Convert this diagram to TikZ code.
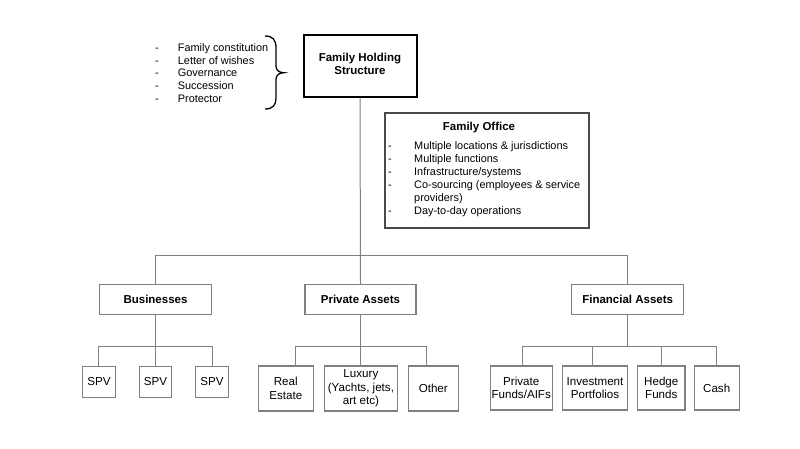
\documentclass[tikz,border=0pt]{standalone}
\usepackage{fontspec}
\setmainfont{Liberation Sans}
\definecolor{lgray}{HTML}{808080}
\definecolor{dgray}{HTML}{4A4A4A}
\begin{document}
\begin{tikzpicture}[x=1pt,y=-1pt,
  conn/.style={draw=lgray,line width=1pt},
  box/.style={draw=lgray,line width=1.1pt,inner sep=0pt,align=center,
    font=\fontsize{11.6}{13.6}\selectfont},
  head/.style={box,minimum width=112pt,minimum height=29.7pt,
    font=\fontsize{11.5}{13.5}\selectfont\bfseries},
  listtxt/.style={inner sep=0pt,anchor=base west,font=\fontsize{10.9}{13.1}\selectfont}
]
\useasboundingbox (0,0) rectangle (800,448);

% top
\node[draw=black,line width=2pt,minimum width=113pt,minimum height=62pt,inner sep=0pt,
  font=\fontsize{11.5}{13.3}\selectfont\bfseries] (top) at (360,65.6)
  {\raisebox{-2.2pt}{\begin{tabular}{@{}c@{}}Family Holding\\Structure\end{tabular}}};

% left list + brace
\node[listtxt,font=\fontsize{10.9}{12.7}\selectfont] (lst) at (155,51.3)
  {\begin{tabular}[t]{@{}p{22.7pt}@{}l@{}}
   -&Family constitution\\
   -&Letter of wishes\\
   -&Governance\\
   -&Succession\\
   -&Protector
   \end{tabular}};
\draw[line width=1.3pt] (265,36) .. controls (273,36) and (276,40) .. (276,48)
  -- (276,66) .. controls (276,70) and (279,72.7) .. (284,72.7)
  .. controls (279,72.7) and (276,75.4) .. (276,79.4)
  -- (276,98) .. controls (276,105) and (273,109) .. (265,109);

% family office
\node[draw=dgray,line width=1.2pt,minimum width=204pt,minimum height=115pt,inner sep=0pt] (fo) at (487,170.5) {};
\node[inner sep=0pt,anchor=base,font=\fontsize{11.5}{13.5}\selectfont\bfseries] (fot) at (479,130) {Family Office};
\node[listtxt] (fol) at (388,149.3)
  {\begin{tabular}[t]{@{}p{26pt}@{}l@{}}
   -&Multiple locations \& jurisdictions\\
   -&Multiple functions\\
   -&Infrastructure/systems\\
   -&Co-sourcing (employees \& service\\
    &providers)\\
   -&Day-to-day operations
   \end{tabular}};

% level 2
\node[head] (bus) at (155.5,299.2) {Businesses};
\node[head,minimum width=111pt] (pa) at (360.5,299.2) {Private Assets};
\node[head] (fin) at (627.7,299.2) {Financial Assets};

% level 3 - SPV
\node[box,minimum width=32.5pt,minimum height=31.7pt] (s1) at (98.9,381.9) {SPV};
\node[box,minimum width=32.5pt,minimum height=31.7pt] (s2) at (155.5,381.9) {SPV};
\node[box,minimum width=32.5pt,minimum height=31.7pt] (s3) at (212,381.9) {SPV};

% private assets children
\node[box,minimum width=55pt,minimum height=45pt] (re) at (285.8,388.5) {Real\\Estate};
\node[box,minimum width=73.7pt,minimum height=45pt] (lux) at (360.9,388.5) {Luxury\\(Yachts, jets,\\art etc)};
\node[box,minimum width=50pt,minimum height=45pt] (oth) at (433.3,388.5) {Other};

% financial children
\node[box,minimum width=62.3pt,minimum height=44pt] (pf) at (521.2,388) {Private\\Funds/AIFs};
\node[box,minimum width=64.6pt,minimum height=44pt] (ip) at (595,388) {Investment\\Portfolios};
\node[box,minimum width=47.3pt,minimum height=44pt] (hf) at (661.3,388) {Hedge\\Funds};
\node[box,minimum width=44.7pt,minimum height=44pt] (cash) at (716.7,388) {Cash};

% connectors
\coordinate (hR) at (627.7,255);
\draw[conn] (top.south) -- (pa.north);
\draw[conn] (bus.north) |- (hR) -- (fin.north);

\coordinate (bbR) at (212,346);
\draw[conn] (bus.south) -- (s2.north);
\draw[conn] (s1.north) |- (bbR) -- (s3.north);

\coordinate (pbL) at (295,346);
\coordinate (pbR) at (426.7,346);
\draw[conn] (pa.south) -- (pa.south |- lux.north);
\draw[conn] (pbL |- re.north) -- (pbL) -- (pbR) -- (pbR |- oth.north);

\coordinate (fb1) at (522.7,346);
\coordinate (fb2) at (592.7,346);
\coordinate (fb3) at (661.7,346);
\coordinate (fb4) at (716.7,346);
\draw[conn] (fin.south) -- (fin.south |- fb1);
\draw[conn] (fb1 |- pf.north) -- (fb1) -- (fb4) -- (fb4 |- cash.north);
\draw[conn] (fb2) -- (fb2 |- ip.north);
\draw[conn] (fb3) -- (fb3 |- hf.north);
\end{tikzpicture}
\end{document}
